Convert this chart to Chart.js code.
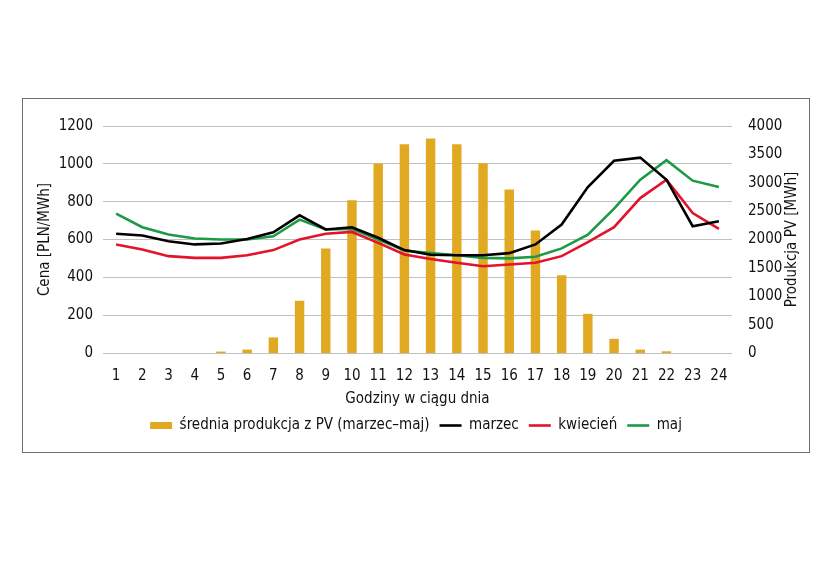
<!DOCTYPE html>
<html>
<head>
<meta charset="utf-8">
<script src="https://cdn.jsdelivr.net/npm/chart.js@4"></script>
<style>
  body { margin: 0; background: #fff; }
  #box {
    position: absolute; left: 22px; top: 98px;
    width: 788px; height: 355px; box-sizing: border-box;
    border: 1px solid #6e6e6e;
  }
  canvas { display: block; }
</style>
</head>
<body>
<div id="box"><canvas id="chart" width="786" height="353"></canvas></div>
<script>
// hours of the day
const hours = ['1','2','3','4','5','6','7','8','9','10','11','12','13','14','15','16','17','18','19','20','21','22','23','24'];

// average PV production, March-May [MWh] (right axis)
const pvProduction = [0, 0, 0, 0, 25, 60, 275, 920, 1840, 2690, 3340, 3680, 3780, 3680, 3345, 2880, 2160, 1370, 690, 250, 60, 30, 0, 0];

// prices [PLN/MWh] (left axis)
const priceMarch = [630, 621, 591, 574, 579, 603, 638, 728, 653, 665, 609, 544, 519, 517, 517, 528, 574, 679, 877, 1016, 1033, 916, 670, 696];
const priceApril = [574, 547, 512, 503, 503, 517, 544, 600, 630, 640, 582, 521, 497, 477, 459, 468, 477, 512, 586, 665, 819, 916, 740, 656];
const priceMay   = [737, 665, 626, 605, 600, 600, 617, 705, 653, 656, 600, 542, 528, 517, 503, 500, 509, 553, 626, 763, 916, 1019, 911, 877];

const FONT = "'Liberation Sans Narrow', 'DejaVu Sans Condensed', sans-serif";
const FS = 15;
const TXT = '#111111';
const GRID = '#c0c0c0';
const RIGHT_TITLE = 'Produkcja PV [MWh]';

const lineDs = (label, data, color) => ({
    type: 'line',
    label,
    data,
    borderColor: color,
    backgroundColor: color,
    borderWidth: 2.6,
    pointRadius: 0,
    tension: 0,
    yAxisID: 'y',
    order: 1
});

// right axis title reads bottom-to-top, like the left one
const rightTitle = {
    id: 'rightTitle',
    afterDraw(chart) {
        const { ctx, chartArea, scales } = chart;
        const s = scales.y1;
        ctx.save();
        ctx.translate(s.right - 17, (chartArea.top + chartArea.bottom) / 2);
        ctx.rotate(-Math.PI / 2);
        ctx.font = `${FS}px ${FONT}`;
        ctx.fillStyle = TXT;
        ctx.textAlign = 'center';
        ctx.textBaseline = 'middle';
        ctx.fillText(RIGHT_TITLE, 0, 0);
        ctx.restore();
    }
};

new Chart(document.getElementById('chart'), {
    data: {
        labels: hours,
        datasets: [{
            type: 'bar',
            label: 'średnia produkcja z PV (marzec–maj)',
            data: pvProduction,
            backgroundColor: '#e1a922',
            barPercentage: 0.36,
            categoryPercentage: 1,
            yAxisID: 'y1',
            order: 5
        },
        lineDs('marzec', priceMarch, '#000000'),
        lineDs('kwiecień', priceApril, '#e2132b'),
        lineDs('maj', priceMay, '#1d9a46')]
    },
    plugins: [rightTitle],
    options: {
        responsive: false,
        animation: false,
        layout: { padding: { top: 27, left: 0, right: 0, bottom: 9 } },
        plugins: {
            tooltip: { enabled: false },
            legend: {
                position: 'bottom',
                labels: {
                    color: TXT,
                    font: { family: FONT, size: FS },
                    usePointStyle: true,
                    pointStyleWidth: 22,
                    boxHeight: 7,
                    padding: 10,
                    sort: (a, b) => a.datasetIndex - b.datasetIndex,
                    generateLabels: (chart) => chart.data.datasets.map((ds, i) => ({
                        text: ds.label,
                        datasetIndex: i,
                        fillStyle: ds.type === 'bar' ? ds.backgroundColor : 'rgba(0,0,0,0)',
                        strokeStyle: ds.type === 'bar' ? 'rgba(0,0,0,0)' : ds.borderColor,
                        lineWidth: ds.type === 'bar' ? 0 : 2.6,
                        pointStyle: ds.type === 'bar' ? 'rect' : 'line',
                        fontColor: TXT
                    }))
                }
            }
        },
        scales: {
            x: {
                offset: true,
                grid: { display: false, drawTicks: false },
                border: { display: false },
                ticks: { color: TXT, font: { family: FONT, size: FS }, padding: 14, maxRotation: 0, autoSkip: false },
                title: { display: true, text: 'Godziny w ciągu dnia', color: TXT, font: { family: FONT, size: FS }, padding: { top: 2, bottom: 0 } },
                afterFit: (s) => { s.height = 55; }
            },
            y: {
                position: 'left',
                min: 0, max: 1200,
                ticks: { stepSize: 200, color: TXT, font: { family: FONT, size: FS }, padding: 10, callback: (v) => String(v) },
                grid: { color: GRID, drawTicks: false },
                border: { display: false },
                title: { display: true, text: 'Cena [PLN/MWh]', color: TXT, font: { family: FONT, size: FS }, padding: { top: 13, bottom: 0 } },
                afterFit: (s) => { s.width = 80; }
            },
            y1: {
                position: 'right',
                min: 0, max: 4000,
                ticks: { stepSize: 500, color: TXT, font: { family: FONT, size: FS }, padding: 16, callback: (v) => String(v) },
                grid: { display: false, drawTicks: false },
                border: { display: false },
                title: { display: false },
                afterFit: (s) => { s.width = 77; }
            }
        }
    }
});
</script>
</body>
</html>
